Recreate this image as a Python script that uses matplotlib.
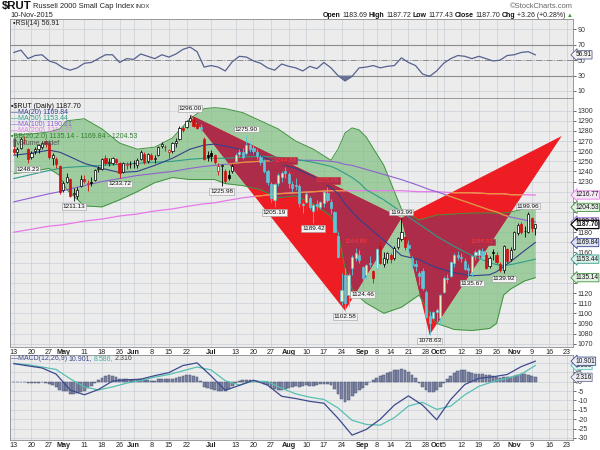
import numpy as np
import pandas as pd
import matplotlib
matplotlib.use('Agg')
import matplotlib.pyplot as plt
from matplotlib.patches import Polygon
from matplotlib.path import Path
from matplotlib.transforms import blended_transform_factory

plt.rcParams['font.family'] = ['Liberation Sans', 'DejaVu Sans']

# ---------------- data ----------------
holidays = ['2015-05-25', '2015-07-03', '2015-09-07']

opens = [
    1262, 1259, 1263, 1271, 1262,   1254, 1260, 1262, 1264, 1270,
    1268, 1253, 1252, 1245, 1222,   1230, 1233, 1218, 1216, 1226,
    1233, 1228, 1230, 1232, 1242,   1242, 1253, 1248, 1248, 1252,
    1248, 1239, 1246, 1247,
    1248, 1246, 1252, 1257, 1250,   1256, 1252, 1256, 1265, 1264,
    1259, 1260, 1268, 1272, 1283,   1284, 1290, 1292, 1287, 1284,
    1272, 1256, 1258, 1256,
    1240, 1245, 1240, 1236, 1240,   1250, 1257, 1259, 1258, 1266,
    1263, 1259, 1254, 1249, 1240,   1228, 1212, 1229, 1235, 1240,
    1237, 1228, 1227, 1226, 1207,   1210, 1214, 1201, 1208, 1205,
    1209, 1219, 1210, 1200, 1176,   1112, 1138, 1118, 1145, 1155,
    1158, 1146, 1138, 1150, 1142,   1145, 1166, 1149, 1154,
    1158, 1155, 1165, 1173, 1175,   1167, 1155, 1149, 1140, 1142,
    1121, 1097, 1095, 1101, 1095,   1121, 1134, 1137, 1150, 1158,
    1156, 1152, 1145, 1141, 1158,   1158, 1161, 1158, 1147, 1160,
    1158, 1149, 1143, 1163, 1154,   1163, 1179, 1188, 1181, 1180,
    1194, 1183.69,
]
highs = [
    1266, 1264, 1274, 1275, 1263,   1260, 1264, 1267, 1270, 1271,
    1271, 1258, 1254, 1246, 1231,   1238, 1234, 1224, 1225, 1236,
    1236, 1232, 1235, 1242, 1245,   1253, 1256, 1253, 1254, 1253,
    1249, 1249, 1249, 1250,
    1251, 1253, 1261, 1259, 1258,   1258, 1256, 1265, 1269, 1266,
    1262, 1269, 1273, 1285, 1285,   1291, 1296.00, 1294, 1290, 1287,
    1274, 1260, 1261, 1257,
    1248, 1247, 1242, 1241, 1247,   1258, 1262, 1263, 1275.90, 1270,
    1266, 1262, 1256, 1252, 1242,   1230, 1229, 1238, 1240, 1244.88,
    1239, 1231, 1234, 1228, 1210,   1220, 1216, 1208, 1212, 1211,
    1221, 1225.09, 1213, 1201, 1180,   1140, 1145, 1140, 1158, 1164.89,
    1162, 1147, 1149, 1157, 1143,   1164, 1170, 1160, 1160,
    1159, 1166, 1175, 1193.99, 1176,   1172, 1157, 1153, 1142, 1145,
    1123, 1102, 1102, 1105, 1119,   1137, 1139, 1152, 1159, 1161,
    1159, 1155, 1149, 1158, 1162,   1163, 1164.51, 1160, 1157, 1163,
    1160, 1151, 1167, 1164, 1165,   1181, 1189, 1190, 1186, 1199.96,
    1195, 1187.72,
]
lows = [
    1257, 1254, 1262, 1267, 1248.23,   1252, 1257, 1258, 1262, 1264,
    1252, 1246, 1243, 1218, 1220,   1229, 1215, 1211.13, 1213, 1225,
    1229, 1221, 1226, 1231, 1239,   1241, 1246, 1245, 1246, 1247,
    1233.72, 1238, 1242, 1243,
    1243, 1243, 1251, 1247, 1248,   1251, 1248, 1255, 1263, 1260,
    1253, 1258, 1264, 1271, 1279,   1283, 1289, 1284, 1282, 1278,
    1251, 1250, 1250, 1247,
    1236, 1225.98, 1229, 1232, 1238,   1249, 1254, 1252, 1256, 1259,
    1257, 1252, 1246, 1238, 1227,   1210, 1205.19, 1226, 1230, 1234,
    1224, 1220, 1222, 1205, 1199,   1209, 1203, 1189.42, 1202, 1203,
    1205, 1210, 1198, 1180, 1156,   1108, 1102.58, 1106, 1138, 1152,
    1150, 1124.46, 1134, 1146, 1130,   1145, 1149, 1146, 1150,
    1150, 1153, 1163, 1171, 1162,   1159, 1144, 1142, 1128, 1123,
    1095, 1078.63, 1094, 1091, 1088,   1120, 1130, 1136, 1146, 1153,
    1151, 1143, 1137, 1135.67, 1153,   1154, 1152, 1144, 1145, 1153,
    1149, 1141, 1139.92, 1150, 1152,   1162, 1177, 1178, 1175, 1179,
    1180, 1177.43,
]
closes = [
    1259, 1262, 1272, 1271, 1252,   1258, 1262, 1266, 1268, 1267,
    1254, 1256, 1247, 1220, 1229,   1235, 1216, 1218, 1222, 1233,
    1231, 1228, 1229, 1241, 1243,   1252, 1248, 1249, 1253, 1249,
    1238, 1248, 1247, 1247,
    1248, 1251, 1259, 1249, 1257,   1252, 1253, 1264, 1267, 1264,
    1261, 1268, 1270, 1283, 1281,   1290, 1293, 1285, 1283, 1282,
    1252, 1254, 1255, 1249,
    1245, 1246, 1231, 1234, 1245,   1256, 1259, 1254, 1266, 1262,
    1260, 1255, 1249, 1240, 1230,   1214, 1228, 1236, 1238, 1238,
    1229, 1224, 1226, 1209, 1207,   1218, 1205, 1207, 1206, 1210,
    1220, 1212, 1204, 1180, 1156,   1123, 1110, 1138, 1156, 1159,
    1153, 1135, 1148, 1149, 1135,   1163, 1150, 1155, 1159,
    1154, 1164, 1174, 1180, 1165,   1164, 1148, 1147, 1137, 1125,
    1096, 1090, 1101, 1103, 1118,   1135, 1134, 1151, 1158, 1156,
    1155, 1144, 1143, 1157, 1160,   1162, 1157, 1145, 1155, 1159,
    1151, 1143, 1166, 1152, 1162,   1180, 1187, 1180, 1181, 1198,
    1184.44, 1187.70,
]

# overlays sampled at these trading-day positions
ov_idx = [0, 5, 10, 13, 15, 20, 25, 30, 35, 40, 45, 50, 54, 57, 60, 65, 70, 75, 80,
          85, 90, 92, 94, 96, 98, 100, 105, 110, 115, 118, 120, 125, 130, 135, 137,
          139, 141, 145, 148]
ma20 = [1256, 1258, 1261, 1259, 1256, 1248, 1243, 1239, 1240, 1246, 1253, 1262, 1266,
        1267, 1265, 1261, 1255, 1248, 1243, 1235, 1224, 1218, 1208, 1200, 1193, 1187,
        1172, 1157, 1153, 1148, 1145, 1140, 1137, 1138, 1141, 1146, 1151, 1162, 1169.84]
bb_up = [1276, 1277, 1279, 1282, 1290, 1292, 1282, 1268, 1262, 1264, 1273, 1292, 1302,
         1303, 1302, 1298, 1290, 1282, 1270, 1262, 1251, 1262, 1278, 1283, 1281, 1274,
         1246, 1203, 1192, 1195, 1197, 1198, 1199, 1199, 1199, 1199, 1200, 1203, 1204.53]
bb_lo = [1238, 1240, 1243, 1236, 1222, 1206, 1205, 1212, 1220, 1229, 1234, 1232, 1232,
         1232, 1228, 1226, 1222, 1214, 1216, 1208, 1196, 1180, 1144, 1124, 1116, 1110,
         1100, 1106, 1118, 1100, 1090, 1084, 1083, 1085, 1090, 1118, 1124, 1132, 1135.14]
ma50 = [1233, 1237, 1241, 1243, 1244, 1245, 1246, 1247, 1248, 1249, 1250, 1252, 1253,
        1253, 1253, 1254, 1255, 1254, 1252, 1249, 1245, 1242, 1238, 1234, 1229, 1222,
        1212, 1200, 1188, 1181, 1176, 1166, 1157, 1150, 1148, 1147, 1148, 1151, 1153.44]
ma100 = [1210, 1214, 1218, 1220, 1222, 1226, 1230, 1233, 1236, 1238, 1240, 1243, 1245,
         1246, 1247, 1249, 1250, 1251, 1251, 1251, 1250, 1249, 1247, 1246, 1244, 1242,
         1237, 1232, 1226, 1222, 1220, 1214, 1208, 1202, 1200, 1197, 1195, 1192, 1190.21]
ma200 = [1180, 1183, 1186, 1187, 1188, 1191, 1193, 1196, 1198, 1201, 1203, 1206, 1208,
         1209, 1211, 1214, 1216, 1218, 1219, 1220, 1221, 1221, 1221, 1221, 1221, 1221,
         1221, 1221, 1220, 1220, 1220, 1219, 1219, 1218, 1218, 1218, 1217, 1217, 1216.77]

# RSI(14) every second trading day
rsi_idx = list(range(0, 149, 2))
rsi = [60, 63, 52, 56, 57, 49, 46, 40, 37, 40, 46, 47, 52, 57, 57, 47, 52, 51, 58, 55,
       52, 57, 54, 58, 64, 67, 61, 41, 43, 41, 36, 48, 55, 54, 49, 46, 40, 37, 45, 42,
       40, 36, 42, 39, 47, 40, 30, 23, 29, 40, 41, 43, 40, 42, 43, 53, 47, 43, 32, 29,
       36, 46, 52, 56, 55, 52, 55, 52, 49, 50, 56, 57, 60, 61, 56.91]

# MACD(12,26,9) every fourth trading day, histogram daily
macd_idx = list(range(0, 149, 4))
macd = [9.6, 8.4, 7.3, 4.0, -4.5, -7.0, -4.2, 0.3, 1.0, 1.3, 3.2, 4.8, 8.6, 10.0, 3.0,
        -4.6, -2.0, 0.8, -1.8, -7.8, -9.0, -10.5, -11.5, -19.5, -28.5, -25.5, -20.0,
        -12.5, -7.6, -12.5, -20.3, -9.5, -1.5, 1.8, 2.6, 3.8, 8.0, 10.901]
signal = [9.7, 9.0, 7.8, 6.5, 1.5, -2.8, -4.4, -2.8, -0.8, 0.6, 2.4, 3.8, 5.8, 7.8, 6.2,
          0.5, -1.8, 0.3, 0.0, -3.5, -6.5, -8.3, -9.5, -14.0, -20.6, -22.8, -23.2,
          -19.2, -13.0, -11.0, -14.8, -13.0, -7.0, -2.5, 0.0, 1.8, 4.0, 8.586]
hist = [
    -0.3, -0.2, -0.1, 0.0, -0.6, -0.7, -0.6, -0.5, -0.4,
    -0.8, -1.2, -1.8, -2.8, -4.6, -5.0, -5.2, -6.4, -6.6, -6.2, -5.6, -4.8, -3.6,
    -2.2, -0.8, 0.8, 2.0, 3.0, 3.4, 3.2, 2.6, 1.6,
    1.4, 1.2, 1.0, 0.8, 0.8, 1.2, 0.8, 0.8, 0.6, 0.6, 1.2,
    1.6, 1.6, 1.2, 1.4, 1.8, 2.6, 3.0, 3.4, 3.6, 3.2, 2.4,
    0.6, -2.8, -3.6, -4.0, -4.6, -5.2, -5.2, -5.0, -3.8, -2.2,
    -0.8, 0.2, 0.8, 1.0, 0.8, 0.6, 0.2, -0.4, -1.0,
    -2.0, -3.4, -3.8, -4.2, -4.4, -4.0, -3.6, -3.0, -2.4, -2.6,
    -2.2, -1.8, -2.4, -2.2, -1.8, -1.4, -1.0, -1.2, -2.0, -4.0,
    -6.5, -9.5, -10.7, -10.0, -7.6, -5.8, -4.2, -3.4, -2.0, -0.4,
    0.8, 2.2, 2.8, 3.6, 4.4, 5.2, 6.0, 6.4, 7.0, 6.2, 5.0, 3.4,
    1.8, -0.8, -2.8, -4.6, -5.6, -5.4, -4.6, -3.0, -0.6,
    1.4, 3.2, 4.6, 5.6, 6.2, 6.0, 5.4, 4.4, 4.2, 4.2, 4.0, 3.8,
    3.6, 3.0, 2.6, 2.2, 2.6, 2.4, 2.4, 3.0, 3.6, 4.0, 4.0, 3.8, 2.8, 2.316,
]

# harmonic pattern points X, A, B, C, D
pat_idx = [50, 94, 110, 118, 155.5]
pat_val = [1296.00, 1102.58, 1193.99, 1078.63, 1275.0]

# labelled highs / lows
hl_idx = [4, 17, 30, 50, 59, 66, 74, 77, 85, 89, 94, 97, 99, 110, 118, 130, 133, 139, 146]
hl_kind = ['l', 'l', 'l', 'h', 'l', 'h', 'l', 'h', 'l', 'h', 'l', 'h', 'l', 'h', 'l', 'l', 'h', 'l', 'h']
hl_red = [77, 89, 97, 133]

tick_dates = ['2015-04-13', '2015-04-20', '2015-04-27', '2015-05-01', '2015-05-11',
              '2015-05-18', '2015-05-26', '2015-06-01', '2015-06-08', '2015-06-15',
              '2015-06-22', '2015-07-01', '2015-07-13', '2015-07-20', '2015-07-27',
              '2015-08-03', '2015-08-10', '2015-08-17', '2015-08-24', '2015-09-01',
              '2015-09-08', '2015-09-14', '2015-09-21', '2015-09-28', '2015-10-01',
              '2015-10-05', '2015-10-12', '2015-10-19', '2015-10-26', '2015-11-02',
              '2015-11-09', '2015-11-16', '2015-11-23']
tick_text = ['13', '20', '27', 'May', '11', '18', '26', 'Jun', '8', '15', '22', 'Jul',
             '13', '20', '27', 'Aug', '10', '17', '24', 'Sep', '8', '14', '21', '28',
             'Oct', '5', '12', '19', '26', 'Nov', '9', '16', '23']

# ---------------- styling ----------------
c_bg = '#ececec'
c_grid = '#c9ced8'
c_ma20 = '#34408c'
c_ma50 = '#2f9d88'
c_ma100 = '#9060d0'
c_ma200 = '#e878e8'
c_bbe = '#3f943f'
c_red = '#ee1d23'
c_crim = '#ad2c4a'
c_cyan = '#5cc6d8'

days = pd.bdate_range('2015-04-13', '2015-11-25')
days = days[~days.isin(pd.to_datetime(holidays))]
tick_pos = [days.get_loc(pd.Timestamp(d)) for d in tick_dates]

fig = plt.figure(figsize=(6, 4.5), dpi=100)
W, H = 600.0, 450.0


def px_axes(left, top, right, bottom):
    return fig.add_axes([left / W, 1 - bottom / H, (right - left) / W, (bottom - top) / H])


ax_r = px_axes(10, 19, 573, 98)
ax_p = px_axes(10, 98, 573, 347)
ax_m = px_axes(10, 355, 573, 440)

for ax in (ax_r, ax_p, ax_m):
    ax.set_facecolor(c_bg)
    ax.set_xlim(-1.1, 158.7)
    ax.set_xticks(tick_pos)
    ax.grid(axis='both', color=c_grid, lw=0.5, zorder=0)
    ax.set_axisbelow(True)
    ax.yaxis.tick_right()
    ax.tick_params(axis='y', labelsize=5, colors='#333333', length=2, pad=1.5, width=0.5)
    ax.tick_params(axis='x', length=0, labelsize=5.2, colors='#222222', pad=1.2)
    for s in ax.spines.values():
        s.set_color('#8a8a8a')
        s.set_linewidth(0.6)

for ax in (ax_p, ax_m):
    ax.set_xticklabels(tick_text)
    for lab in ax.get_xticklabels():
        if not lab.get_text().isdigit():
            lab.set_fontweight('bold')
ax_r.set_xticklabels([])


def tick_labels(ticks, tag_vals, gap, fmt):
    # blank the tick labels that sit under a value tag
    return [fmt % t if min(abs(t - v) for v in tag_vals) >= gap else '' for t in ticks]


def tag(ax, v, text, ec, fc, fw='normal', lw=0.6):
    tr = blended_transform_factory(ax.transAxes, ax.transData)
    ax.text(1.004, v, text, transform=tr, fontsize=4.7, va='center', ha='left',
            color='#111111', fontweight=fw, zorder=10,
            bbox=dict(boxstyle='larrow,pad=0.1', fc=fc, ec=ec, lw=lw))


# ---------------- RSI ----------------
ax_r.set_ylim(0.9, 103.4)
r_ticks = [10, 30, 50, 70, 90]
ax_r.set_yticks(r_ticks)
ax_r.set_yticklabels(tick_labels(r_ticks, [rsi[-1]], 6, '%d'))
ax_r.axhline(70, color='#8c8c8c', lw=0.8, zorder=1)
ax_r.axhline(30, color='#8c8c8c', lw=0.8, zorder=1)
ax_r.axhline(50, color='#8c8c8c', lw=0.7, ls='-.', zorder=1)
rsi_a = np.array(rsi, dtype=float)
ax_r.fill_between(rsi_idx, rsi_a, 30, where=rsi_a < 30, interpolate=True,
                  color='#6c7392', lw=0, zorder=2)
ax_r.plot(rsi_idx, rsi, color='#56618f', lw=0.9, zorder=3)
ax_r.text(0.005, 0.985, '\u25aaRSI(14) %.2f' % rsi[-1], transform=ax_r.transAxes,
          fontsize=5, va='top', ha='left', color='#222222')
tag(ax_r, rsi[-1], '%.2f' % rsi[-1], '#56618f', '#f4f4f4')

# ---------------- price ----------------
ax_p.set_ylim(1066.7, 1312.5)
p_ticks = list(range(1070, 1301, 10))
ax_p.set_yticks(p_ticks)

ax_p.fill_between(ov_idx, bb_lo, bb_up, color='#80c080', alpha=0.7, lw=0, zorder=1)

tris = []
for a, b in ((0, 3), (2, 5)):
    pts = list(zip(pat_idx[a:b], pat_val[a:b]))
    tri = Polygon(pts, closed=True, fc=c_red, ec='none', zorder=2)
    ax_p.add_patch(tri)
    tris.append(tri)
    fb = ax_p.fill_between(ov_idx, bb_lo, bb_up, color=c_crim, lw=0, zorder=2.2)
    fb.set_clip_path(tri)

ax_p.plot(ov_idx, bb_up, color=c_bbe, lw=0.7, zorder=3)
ax_p.plot(ov_idx, bb_lo, color=c_bbe, lw=0.7, zorder=3)
ax_p.plot(ov_idx, ma200, color=c_ma200, lw=0.9, zorder=3)
ax_p.plot(ov_idx, ma100, color=c_ma100, lw=0.8, zorder=3)
for tri in tris:
    for line in (ma100, ma200):
        ln, = ax_p.plot(ov_idx, line, color='#f0922c', lw=0.9, zorder=3.1)
        ln.set_clip_path(tri)
ax_p.plot(ov_idx, ma50, color=c_ma50, lw=0.8, zorder=3.2)
ax_p.plot(ov_idx, ma20, color=c_ma20, lw=0.8, zorder=3.2)

# candles
o = np.array(opens, dtype=float)
h = np.array(highs, dtype=float)
l = np.array(lows, dtype=float)
c = np.array(closes, dtype=float)
x = np.arange(len(c))
prev = np.r_[o[0], c[:-1]]
paths = [Path(t.get_xy()) for t in tris]
edge, face = [], []
for i in range(len(c)):
    inside = any(p.contains_point((i, (o[i] + c[i]) / 2)) for p in paths)
    if inside:
        col = c_cyan
        hollow_fc = '#e6f3c4'
    else:
        col = '#000000' if c[i] >= prev[i] else '#d01010'
        hollow_fc = '#ffffff'
    edge.append(col)
    face.append(hollow_fc if c[i] >= o[i] else col)
ax_p.vlines(x, l, h, colors=edge, lw=0.6, zorder=3.9)
body_h = np.maximum(np.abs(c - o), 0.5)
ax_p.bar(x, body_h, bottom=np.minimum(o, c), width=0.62, color=face, edgecolor=edge,
         linewidth=0.5, zorder=4)

# high / low labels
for i, k in zip(hl_idx, hl_kind):
    red = i in hl_red
    v = h[i] if k == 'h' else l[i]
    ax_p.annotate('%.2f' % v, xy=(i, v), xytext=(0, 2.5 if k == 'h' else -2.5),
                  textcoords='offset points', ha='center',
                  va='bottom' if k == 'h' else 'top', fontsize=4.6,
                  color='#ff3a3a' if red else '#111111', zorder=6,
                  bbox=dict(boxstyle='square,pad=0.12', fc=c_crim if red else '#f3f3f3',
                            ec='#c03030' if red else '#9a9a9a', lw=0.4))

# right-hand value tags
tags = [(ma200[-1], c_ma200, '#f6e6f6', 'normal'),
        (bb_up[-1], c_bbe, '#e4f0e4', 'normal'),
        (ma100[-1], c_ma100, '#ece4f6', 'normal'),
        (ma20[-1], c_ma20, '#dfe3f2', 'normal'),
        (ma50[-1], c_ma50, '#dcf0ec', 'normal'),
        (bb_lo[-1], c_bbe, '#e4f0e4', 'normal'),
        (c[-1], '#000000', '#ffffff', 'bold')]
ax_p.set_yticklabels(tick_labels(p_ticks, [t[0] for t in tags], 5.5, '%d'))
for v, ec, fc, fw in tags:
    tag(ax_p, v, '%.2f' % v, ec, fc, fw, 0.9 if fw == 'bold' else 0.6)

# ---------------- MACD ----------------
ax_m.set_ylim(-31.1, 14.2)
m_ticks = list(range(-30, 11, 5))
ax_m.set_yticks(m_ticks)
ax_m.set_yticklabels(tick_labels(m_ticks, [macd[-1]], 2, '%d'))
ax_m.bar(np.arange(len(hist)), hist, width=0.8, color='#7d84a2', edgecolor='#4a5274',
         linewidth=0.35, zorder=2)
ax_m.plot(macd_idx, signal, color='#56c0b2', lw=0.9, zorder=3)
ax_m.plot(macd_idx, macd, color='#3d4a8c', lw=0.9, zorder=3)
tag(ax_m, signal[-1], '%.3f' % signal[-1], '#56c0b2', '#dff3f0')
tag(ax_m, macd[-1], '%.3f' % macd[-1], '#3d4a8c', '#eceef6')
tag(ax_m, hist[-1], '%.3f' % hist[-1], '#6a7090', '#eceef4')

# ---------------- text rows ----------------
fig.canvas.draw()
rend = fig.canvas.get_renderer()


def row(x_px, y_px, parts, right=False, gap=1.5):
    texts = [fig.text(0, 1 - y_px / H, s, va='center', ha='left', **kw) for s, kw in parts]
    widths = [t.get_window_extent(renderer=rend).width for t in texts]
    xx = x_px - (sum(widths) + gap * (len(texts) - 1)) if right else x_px
    for t, w in zip(texts, widths):
        t.set_x(xx / W)
        xx += w + gap


row(2, 6.5, [(r'\$RUT', dict(fontsize=8.2, fontweight='bold', color='#111111')),
             ('Russell 2000 Small Cap Index', dict(fontsize=5.4, color='#222222')),
             ('INDX', dict(fontsize=4.3, color='#333333'))])
fig.text(10 / W, 1 - 15.5 / H, '10-Nov-2015', fontsize=5.3, va='center', color='#222222')
fig.text(573 / W, 1 - 6 / H, '\u00a9StockCharts.com', fontsize=5.4, va='center',
         ha='right', color='#666666')
b = dict(fontsize=5.0, fontweight='bold', color='#111111')
n = dict(fontsize=5.0, color='#222222')
row(573, 15.5, [('Open', b), ('%.2f' % o[-1], n), ('High', b), ('%.2f' % h[-1], n),
                ('Low', b), ('%.2f' % l[-1], n), ('Close', b), ('%.2f' % c[-1], n),
                ('Chg', b), ('+%.2f (+%.2f%%)' % (c[-1] - c[-2], (c[-1] / c[-2] - 1) * 100), n),
                ('\u25b2', dict(fontsize=4.2, color='#2a9a2a'))], right=True, gap=1.6)

legend = [('\u25aa' + r'\$RUT (Daily) %.2f' % c[-1], '#111111'),
          ('\u2014MA(20) %.2f' % ma20[-1], c_ma20),
          ('\u2014MA(50) %.2f' % ma50[-1], c_ma50),
          ('\u2014MA(100) %.2f' % ma100[-1], c_ma100),
          ('\u2014MA(200) %.2f' % ma200[-1], c_ma200),
          ('\u25aaBB(20,2.0) %.2f - %.2f - %.2f' % (bb_lo[-1], ma20[-1], bb_up[-1]), '#2f7f2f'),
          ('\u2590Volume undef', '#555555')]
for k, (s, col) in enumerate(legend):
    fig.text(11 / W, 1 - (106.5 + 6 * k) / H, s, fontsize=5, va='center', color=col, zorder=20)

row(11, 358.5, [('\u2014MACD(12,26,9)', dict(fontsize=5, color='#3d4a8c')),
                ('%.3f,' % macd[-1], dict(fontsize=5, color='#3d4a8c')),
                ('%.3f,' % signal[-1], dict(fontsize=5, color='#3fb0a2')),
                ('%.3f' % hist[-1], dict(fontsize=5, color='#444444'))])

fig.savefig('out.png', dpi=100)
